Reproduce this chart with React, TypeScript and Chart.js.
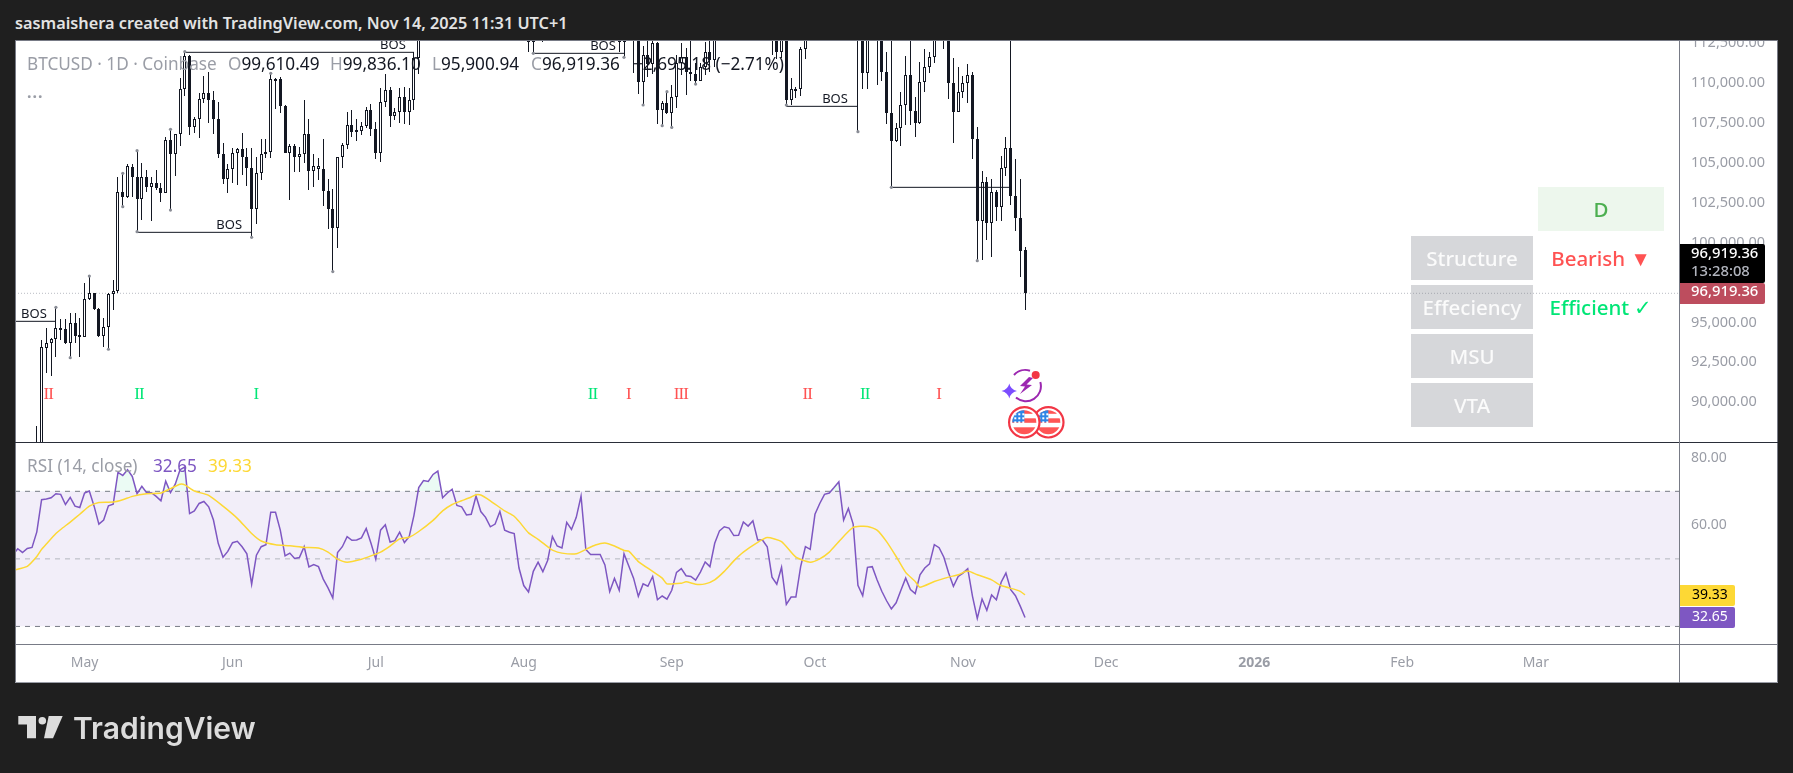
import React, { useEffect, useRef } from "react";
import { Chart, registerables } from "chart.js";

Chart.register(...registerables);

const UI_FONT = "'Noto Sans', sans-serif";

// Day numbers count from 16 Apr 2025 = 0; 14 Nov 2025 = 212.
const FIRST_CANDLE_DAY = 5;
const X_MIN = 0.43;
const X_MAX = 348.99;
const PRICE_MIN = 87596;
const PRICE_MAX = 112738;
const RSI_MIN = 24.8;
const RSI_MAX = 84.3;

const priceTicks = [90000, 92500, 95000, 97500, 100000, 102500, 105000, 107500, 110000, 112500];
const rsiTicks = [60, 80];
const monthTickDays = [15, 46, 76, 107, 138, 168, 199, 229, 260, 291, 319];
const monthTickLabels = ["May", "Jun", "Jul", "Aug", "Sep", "Oct", "Nov", "Dec", "2026", "Feb", "Mar"];

// [open, high, low, close]
const candlesApr = [
  [85100, 88600, 85000, 87400], [87400, 93990, 87000, 93530], [93510, 94720, 91940, 93780], [93780, 94100, 91750, 94030],
  [94030, 96040, 92950, 94720], [94720, 95290, 93990, 94750], [94660, 95290, 93720, 93780], [93780, 95660, 92880, 95040],
  [95040, 95660, 93830, 94260], [94300, 95350, 92950, 94200],
];
const candlesMay = [
  [94200, 97545, 94200, 96540], [96540, 98000, 96500, 96960], [96960, 96960, 95870, 95910], [95910, 95980, 94200, 94260],
  [94260, 95350, 93570, 94780], [94780, 96920, 93410, 96870], [96850, 97750, 95870, 97080], [97065, 104230, 96920, 103290],
  [103290, 104440, 102350, 102980], [102980, 105020, 102870, 104900], [104820, 105020, 102980, 104190], [104190, 105860, 100780, 102810],
  [102810, 105070, 101520, 104190], [104190, 104650, 103290, 103560], [103560, 104230, 101470, 103810], [103810, 104650, 103400, 103500],
  [103500, 103810, 102670, 103190], [103190, 106740, 103190, 106530], [106530, 107200, 102140, 105630], [105630, 106890, 104270, 106890],
  [106890, 110400, 106180, 109710], [109710, 112070, 109310, 111800], [111800, 111860, 106840, 107370], [107370, 108000, 106950, 107830],
  [107830, 109460, 106680, 109080], [109080, 110540, 108830, 109500], [109500, 110820, 107620, 109040], [109040, 109620, 106890, 107830],
  [107830, 108930, 105380, 105630], [105630, 106360, 103770, 104070], [104070, 105030, 103190, 104690],
];
const candlesJun = [
  [104690, 106010, 103810, 105740], [105740, 106010, 103710, 105950], [105950, 106950, 104340, 105490], [105490, 106010, 103650, 104750],
  [104750, 106010, 100430, 102180], [102180, 105450, 101260, 104440], [104440, 106570, 104020, 105630], [105630, 106570, 105380, 105800],
  [105800, 110710, 105380, 110330], [110330, 110400, 108450, 110300], [110330, 110460, 108200, 108690], [108690, 108730, 105740, 105740],
  [105740, 106280, 102770, 106150], [106150, 106280, 104550, 105490], [105490, 106110, 104550, 105630], [105630, 109040, 105070, 106890],
  [106890, 107830, 103400, 104610], [104610, 105650, 103600, 104920], [104690, 105380, 104020, 104920], [104690, 106570, 102390, 103350],
  [103350, 104070, 100950, 102180], [102180, 103440, 98280, 101030], [101030, 105490, 99740, 105440], [105440, 106360, 104750, 106200],
  [106200, 108310, 105950, 107450], [107450, 108410, 106700, 107050], [107050, 107830, 106490, 107160], [107120, 107680, 106840, 107410],
  [107410, 108620, 107260, 108410], [108410, 108790, 106800, 107200],
];
const candlesJul = [
  [107200, 107680, 105340, 105740], [105740, 109810, 105170, 108890], [108890, 110670, 108620, 109670], [109670, 109830, 107370, 108060],
  [108060, 108520, 107780, 108270], [108270, 109770, 107580, 109250], [109250, 109830, 107530, 108310], [108310, 109770, 107470, 109040],
  [109040, 112030, 108410, 111650], [111650, 116800, 110670, 116000], [116000, 118800, 115000, 117500], [117500, 118200, 116900, 117400],
  [117400, 119400, 117300, 119100], [119100, 123200, 118900, 119800], [119800, 119900, 115800, 117700], [117700, 119000, 115900, 118600],
  [118600, 120900, 117500, 119200], [119200, 120000, 117100, 117900], [117900, 118900, 117300, 117900], [117900, 118800, 116500, 117300],
  [117300, 119600, 116800, 117400], [117400, 120200, 116100, 120000], [120000, 120100, 117300, 118700], [118700, 119500, 117100, 118300],
  [118300, 118400, 114700, 117600], [117600, 118300, 117200, 117900], [117900, 119800, 117800, 119400], [119400, 119800, 117400, 118000],
  [118000, 119200, 116900, 117800], [117800, 118800, 115800, 117800], [117800, 118900, 115700, 115700],
];
const candlesAug = [
  [115700, 116000, 113000, 113300], [113300, 114000, 112070, 112700], [112700, 114700, 111965, 114200], [114200, 115700, 114000, 115100],
  [115100, 115100, 112700, 114100], [114100, 115700, 113300, 115000], [115000, 117600, 114300, 117500], [117500, 117700, 115900, 116700],
  [116700, 117900, 116400, 116500], [116500, 119300, 116500, 119300], [119300, 122300, 118100, 118700], [118700, 120300, 118200, 120100],
  [120100, 123700, 118900, 123300], [123300, 124500, 117200, 118300], [118300, 119300, 116800, 117400], [117400, 117900, 117200, 117500],
  [117500, 118600, 117300, 117500], [117500, 117600, 114700, 116300], [116300, 116800, 112900, 113000], [113000, 114600, 113000, 114300],
  [114300, 114800, 112070, 112700], [112700, 117400, 111715, 116900], [116900, 117400, 114500, 115400], [115400, 115600, 110710, 113500],
  [113500, 113700, 109390, 110147], [110147, 112400, 108725, 111860], [111860, 113400, 110500, 111280], [111280, 113400, 110700, 112630],
  [112630, 112700, 107530, 108410], [108410, 109000, 107430, 108830], [108830, 109560, 108160, 108240],
];
const candlesSep = [
  [108240, 109980, 107320, 109250], [109250, 111860, 108520, 111340], [111340, 112630, 110600, 111760], [111760, 112280, 109350, 110770],
  [110770, 113000, 110250, 110670], [110700, 111340, 110040, 110250], [110250, 111340, 110250, 111130], [111130, 112700, 110600, 112070],
  [112070, 113000, 110800, 111550], [111550, 114300, 111090, 113900], [113900, 115600, 113400, 115500], [115500, 116300, 114800, 116000],
  [116000, 116400, 115500, 115900], [115900, 116100, 115100, 115300], [115300, 116700, 114800, 115400], [115400, 117000, 114400, 116800],
  [116800, 117300, 114800, 116500], [116500, 117900, 116100, 117000], [117000, 117500, 115100, 115600], [115600, 116200, 115400, 115700],
  [115700, 115900, 115000, 115300], [115300, 115700, 111860, 112750], [112750, 113300, 111590, 112030], [112030, 114000, 111650, 113300],
  [113300, 113700, 108725, 109040], [109040, 110400, 108725, 109708], [109708, 109875, 109143, 109750], [109750, 112383, 109290, 112216],
  [112216, 114500, 111610, 114300], [114300, 114800, 112800, 114000],
];
const candlesOct = [
  [114000, 118700, 113900, 118600], [118600, 120900, 118300, 120500], [120500, 123900, 119300, 122200], [122200, 122900, 121500, 122400],
  [122400, 125700, 122100, 123400], [123400, 126200, 123100, 124700], [124700, 125100, 120600, 121400], [121400, 124100, 121100, 123300],
  [123300, 123700, 119500, 121600], [121600, 122500, 107053, 113000], [113000, 113500, 109750, 110753], [110753, 115900, 109750, 115200],
  [115200, 116000, 113500, 115300], [115300, 115900, 109980, 113000], [113000, 113700, 110251, 110815], [110815, 112070, 107534, 108200],
  [108200, 113000, 103563, 106490], [106490, 107576, 106427, 107263], [107263, 109562, 106176, 108725], [108725, 111798, 107472, 110607],
  [110607, 113000, 107472, 108370], [108370, 109248, 106740, 107618], [107618, 111443, 107534, 110147], [110147, 112237, 109562, 111087],
  [111087, 112028, 110753, 111714], [111714, 114600, 111338, 113500], [113500, 116400, 113400, 114100], [114100, 116000, 112237, 112900],
  [112900, 113600, 109081, 110084], [110084, 111651, 106364, 108308], [108308, 111129, 108308, 109562],
];
const candlesNov = [
  [109562, 110544, 109143, 110084], [110084, 111296, 108872, 110607], [110607, 110815, 105340, 106573], [106573, 107325, 98965, 101473],
  [101473, 104608, 99007, 103877], [103877, 104232, 100261, 101306], [101306, 104086, 99216, 103292], [103292, 103396, 101473, 102309],
  [102309, 105528, 101473, 104754], [104754, 106698, 104295, 106008], [106008, 113000, 102456, 103041], [103041, 105319, 100846, 101661],
  [101661, 104086, 97962, 99592], [99610.49, 99836.1, 95900.94, 96919.36],
];

const rsiApr = [51.2, 53.0, 51.9, 53.1, 53.4, 58.0, 67.5, 67.7, 68.1, 69.3, 69.1, 66.1, 68.2, 65.6, 65.2];
const rsiMay = [69.5, 70.1, 65.6, 60.3, 61.5, 65.7, 66.2, 75.6, 74.7, 76.4, 74.4, 69.3, 71.5, 69.6, 69.6, 68.5, 67.2, 73.0, 69.6, 72.1, 76.4, 77.2, 63.4, 64.2, 66.4, 67.0, 65.4, 61.5, 54.6, 50.5, 52.2];
const rsiJun = [54.8, 55.2, 53.6, 51.5, 42.5, 51.1, 53.6, 54.2, 63.8, 63.8, 58.5, 50.9, 51.7, 50.1, 50.4, 53.6, 47.6, 48.3, 47.7, 44.0, 41.4, 38.4, 51.9, 53.6, 56.6, 55.5, 55.6, 56.2, 59.0, 54.6];
const rsiJul = [49.9, 58.5, 60.1, 55.0, 55.4, 57.9, 54.8, 56.6, 62.9, 71.1, 73.2, 72.9, 75.0, 76.0, 68.1, 69.5, 70.6, 65.8, 65.4, 63.0, 63.2, 68.6, 64.0, 62.3, 59.5, 60.3, 64.0, 58.5, 57.9, 57.5, 47.3];
const rsiAug = [42.1, 40.2, 46.3, 49.0, 46.2, 49.5, 56.6, 53.8, 53.2, 60.8, 58.7, 62.3, 68.6, 52.8, 51.3, 51.3, 51.3, 48.2, 40.3, 44.2, 40.7, 51.5, 47.9, 44.3, 38.9, 42.6, 41.9, 44.8, 37.9, 39.0, 38.1];
const rsiSep = [40.7, 46.0, 47.1, 45.0, 44.8, 43.7, 46.1, 49.1, 47.7, 54.6, 58.3, 59.5, 59.1, 56.9, 57.0, 60.9, 59.7, 61.3, 55.6, 55.6, 53.6, 44.6, 42.5, 47.5, 36.5, 38.7, 38.7, 47.7, 53.6, 52.8];
const rsiOct = [63.2, 66.4, 69.1, 69.5, 71.1, 72.8, 61.5, 64.9, 60.3, 42.2, 39.1, 47.5, 47.7, 43.8, 40.4, 37.6, 35.2, 37.0, 40.7, 44.3, 40.9, 39.7, 45.3, 47.3, 48.5, 54.2, 53.3, 50.5, 45.8, 41.9, 44.8];
const rsiNov = [45.8, 47.1, 38.9, 32.4, 38.1, 34.8, 39.3, 37.9, 43.1, 45.8, 40.9, 39.1, 36.0, 32.65];

const rsiMaDays = [0, 3, 5, 6, 7, 9, 10, 12, 14, 16, 18, 21, 23, 25, 28, 31, 33, 35, 36, 38, 41, 44, 47, 50, 52, 55, 58, 61, 64, 66, 68, 70, 73, 75, 77, 79, 81, 83, 85, 88, 90, 92, 94, 96, 97, 98, 100, 103, 105, 106, 108, 110, 112, 113, 115, 118, 120, 122, 124, 126, 128, 129, 131, 134, 136, 137, 140, 141, 143, 145, 147, 149, 151, 153, 156, 158, 161, 164, 167, 169, 171, 173, 176, 179, 181, 183, 185, 187, 189, 190, 193, 196, 198, 200, 202, 205, 207, 210, 211, 212];
const rsiMaValues = [46.6, 47.8, 50.7, 52.8, 54.4, 57.5, 58.7, 60.9, 63.2, 65.6, 66.7, 66.8, 67.5, 68.5, 69.3, 69.5, 70.8, 72.1, 71.9, 70.1, 68.8, 65.6, 62.0, 57.5, 55.3, 54.2, 53.9, 53.4, 53.2, 52.0, 49.9, 49.0, 49.9, 50.9, 52.0, 53.8, 55.9, 56.4, 58.1, 61.4, 64.2, 66.1, 67.2, 68.3, 69.0, 68.9, 67.2, 64.2, 62.6, 61.1, 57.7, 55.8, 53.6, 52.6, 51.7, 51.5, 52.8, 54.1, 54.7, 53.8, 52.5, 52.3, 49.2, 46.3, 44.3, 42.6, 42.8, 43.2, 42.5, 42.6, 43.8, 46.3, 49.4, 52.0, 54.9, 56.3, 55.1, 50.5, 49.0, 50.0, 52.0, 55.1, 59.3, 59.6, 58.5, 55.1, 50.7, 46.0, 43.3, 41.6, 43.3, 44.6, 45.3, 46.4, 45.3, 43.8, 42.1, 40.9, 40.4, 39.33];

const rsiHighBand = 70;
const rsiMidBand = 50;
const rsiLowBand = 30;
const lastPrice = 96919.36;
const lastRsi = 32.65;
const lastRsiMa = 39.33;

const swingHighDays = [9, 16, 23, 26, 33, 36, 54, 137];
const swingLowDays = [12, 20, 23, 26, 33, 50, 67, 109, 128, 132, 136, 138, 143, 162, 177, 184, 202];

const bosStartDays = [X_MIN, 26, 36, 109, 162, 184];
const bosEndDays = [9, 50, 84, 128, 177, 209];
const bosPrices = [95162, 100742, 112028, 111965, 108642, 103563];
const bosLabelDays = [4.4, 45.3, 79.6, 123.6, 172.2];
const bosLabelPrices = [95162, 100742, 112028, 111965, 108642];

const markPrice = 90600;
const redMarkDays = [7, 8, 129, 139, 140, 141, 166, 167, 194];
const greenMarkDays = [26, 27, 51, 121, 122, 178, 179];

const allCandles = [...candlesApr, ...candlesMay, ...candlesJun, ...candlesJul, ...candlesAug, ...candlesSep, ...candlesOct, ...candlesNov];
const allRsi = [...rsiApr, ...rsiMay, ...rsiJun, ...rsiJul, ...rsiAug, ...rsiSep, ...rsiOct, ...rsiNov];
const candleAt = (day: number) => allCandles[day - FIRST_CANDLE_DAY];

const AXIS_COLOR = "#9a9da6";
const tickFont = { size: 14, family: UI_FONT };
const priceTickFont = { size: 14.5, family: UI_FONT };

const zeroPad = (s: any) => {
  s.paddingTop = 0;
  s.paddingBottom = 0;
  s.paddingLeft = 0;
  s.paddingRight = 0;
};

const snapBars = {
  id: "snapBars",
  afterDatasetsUpdate(chart: any) {
    chart.data.datasets.forEach((ds: any, i: number) => {
      if (ds.type !== "bar") return;
      chart.getDatasetMeta(i).data.forEach((el: any) => {
        el.x = Math.floor(el.x) + 0.5;
        el.y = Math.round(el.y);
        el.base = Math.round(el.base);
        if (Math.abs(el.y - el.base) < 2) el.base = el.y + 2;
      });
    });
  },
};

function tag(ctx: any, x: number, y: number, w: number, h: number, fill: string) {
  ctx.fillStyle = fill;
  ctx.beginPath();
  ctx.moveTo(x, y);
  ctx.lineTo(x + w - 2, y);
  ctx.arcTo(x + w, y, x + w, y + 2, 2);
  ctx.lineTo(x + w, y + h - 2);
  ctx.arcTo(x + w, y + h, x + w - 2, y + h, 2);
  ctx.lineTo(x, y + h);
  ctx.closePath();
  ctx.fill();
}

const priceAnnotations = {
  id: "priceAnnotations",
  afterDatasetsDraw(chart: any) {
    const { ctx, scales } = chart;
    const xs = scales.x;
    const ys = scales.y;
    ctx.save();
    ctx.textAlign = "center";
    ctx.textBaseline = "alphabetic";
    ctx.font = `13px ${UI_FONT}`;
    ctx.fillStyle = "#131722";
    bosLabelDays.forEach((d, i) => {
      ctx.fillText("BOS", xs.getPixelForValue(d), ys.getPixelForValue(bosLabelPrices[i]) - 3);
    });
    ctx.textBaseline = "middle";
    ctx.font = "17px 'Liberation Serif', serif";
    ctx.fillStyle = "#ff5252";
    redMarkDays.forEach((d) => ctx.fillText("I", xs.getPixelForValue(d), ys.getPixelForValue(markPrice)));
    ctx.fillStyle = "#00e676";
    greenMarkDays.forEach((d) => ctx.fillText("I", xs.getPixelForValue(d), ys.getPixelForValue(markPrice)));
    ctx.restore();
  },
  afterDraw(chart: any) {
    const { ctx, chartArea, scales } = chart;
    const left = chartArea.right + 1;
    const y = Math.round(scales.y.getPixelForValue(lastPrice));
    ctx.save();
    tag(ctx, left, y - 49, 85, 39, "#000000");
    tag(ctx, left, y - 10, 85, 21, "#bd4d5e");
    ctx.textBaseline = "middle";
    ctx.textAlign = "left";
    ctx.font = `500 14.8px ${UI_FONT}`;
    ctx.fillStyle = "#ffffff";
    ctx.fillText("96,919.36", left + 11, y - 39);
    ctx.fillText("96,919.36", left + 11, y - 1);
    ctx.fillStyle = "#b2b5be";
    ctx.fillText("13:28:08", left + 11, y - 21);
    ctx.restore();
  },
};

const rsiAnnotations = {
  id: "rsiAnnotations",
  afterDraw(chart: any) {
    const { ctx, chartArea, scales } = chart;
    const left = chartArea.right + 1;
    const y1 = Math.round(scales.y.getPixelForValue(lastRsiMa));
    const y2 = Math.round(scales.y.getPixelForValue(lastRsi));
    ctx.save();
    tag(ctx, left, y1 - 10, 55, 21, "#fdd835");
    tag(ctx, left, y2 - 10, 55, 21, "#7e57c2");
    ctx.textBaseline = "middle";
    ctx.textAlign = "left";
    ctx.font = `14px ${UI_FONT}`;
    ctx.fillStyle = "#000000";
    ctx.fillText(lastRsiMa.toFixed(2), left + 12, y1);
    ctx.fillStyle = "#ffffff";
    ctx.fillText(lastRsi.toFixed(2), left + 12, y2);
    ctx.restore();
  },
};

function buildPriceChart(canvas: HTMLCanvasElement) {
  const days = allCandles.map((_, i) => i + FIRST_CANDLE_DAY);
  const bosDatasets = bosPrices.map((p, i) => ({
    type: "line",
    data: [{ x: bosStartDays[i], y: p }, { x: bosEndDays[i], y: p }],
    borderColor: "#131722",
    borderWidth: 1,
    pointRadius: 0,
    order: 3,
  }));
  return new Chart(canvas, {
    data: {
      datasets: [
        {
          type: "line",
          data: [{ x: X_MIN, y: lastPrice }, { x: X_MAX, y: lastPrice }],
          borderColor: "#b9bcc4",
          borderWidth: 1,
          borderDash: [1, 2],
          pointRadius: 0,
          order: 6,
        },
        {
          type: "bar",
          data: days.map((d) => ({ x: d, y: [candleAt(d)[2], candleAt(d)[1]] })),
          backgroundColor: "#131722",
          barThickness: 1,
          grouped: false,
          inflateAmount: 0,
          order: 5,
        },
        {
          type: "bar",
          data: days.map((d) => ({ x: d, y: [candleAt(d)[0], candleAt(d)[3]] })),
          backgroundColor: days.map((d) => (candleAt(d)[3] >= candleAt(d)[0] ? "#ffffff" : "#131722")),
          borderColor: "#131722",
          borderWidth: 1,
          borderSkipped: false,
          barThickness: 3,
          grouped: false,
          inflateAmount: 0,
          order: 4,
        },
        ...bosDatasets,
        {
          type: "scatter",
          data: [
            ...swingHighDays.map((d) => ({ x: d, y: candleAt(d)[1] })),
            ...swingLowDays.map((d) => ({ x: d, y: candleAt(d)[2] })),
          ],
          backgroundColor: "#8a8d96",
          borderWidth: 0,
          pointRadius: 1.6,
          order: 2,
        },
      ],
    } as any,
    options: {
      responsive: false,
      maintainAspectRatio: false,
      animation: false,
      events: [],
      layout: { padding: 0, autoPadding: false },
      plugins: { legend: { display: false }, tooltip: { enabled: false } },
      scales: {
        x: { type: "linear", min: X_MIN, max: X_MAX, offset: false, display: false, afterFit: zeroPad },
        y: {
          type: "linear",
          position: "right",
          min: PRICE_MIN,
          max: PRICE_MAX,
          grid: { display: false, drawTicks: false },
          border: { display: false },
          afterBuildTicks: (s: any) => {
            s.ticks = priceTicks.map((value) => ({ value }));
          },
          afterFit: (s: any) => {
            zeroPad(s);
            s.width = 99;
          },
          ticks: {
            color: AXIS_COLOR,
            font: priceTickFont,
            padding: 12,
            labelOffset: -1.5,
            autoSkip: false,
            callback: (v: any) => Number(v).toLocaleString("en-US", { minimumFractionDigits: 2, maximumFractionDigits: 2 }),
          },
        },
      },
    } as any,
    plugins: [snapBars, priceAnnotations],
  });
}

function buildRsiChart(canvas: HTMLCanvasElement) {
  const band = (value: number, color: string, dash: number[], fill: any, order: number) => ({
    type: "line",
    data: [{ x: X_MIN, y: value }, { x: X_MAX, y: value }],
    borderColor: color,
    borderWidth: 1,
    borderDash: dash,
    pointRadius: 0,
    fill,
    order,
  });
  return new Chart(canvas, {
    data: {
      datasets: [
        band(rsiHighBand, "#787b86", [5, 5], { target: { value: rsiLowBand }, above: "rgba(126,87,194,0.1)", below: "transparent" }, 9),
        band(rsiMidBand, "#b4b6be", [5, 5], false, 8),
        band(rsiLowBand, "#787b86", [5, 5], false, 8),
        {
          type: "line",
          data: allRsi.map((v, i) => ({ x: i, y: v })),
          borderColor: "#7e57c2",
          borderWidth: 1.5,
          pointRadius: 0,
          tension: 0,
          fill: { target: { value: rsiHighBand }, above: "rgba(0,200,120,0.08)", below: "transparent" },
          order: 3,
        },
        {
          type: "line",
          data: rsiMaDays.map((d, i) => ({ x: d, y: rsiMaValues[i] })),
          borderColor: "#fdd835",
          borderWidth: 1.5,
          pointRadius: 0,
          tension: 0.2,
          order: 2,
        },
      ],
    } as any,
    options: {
      responsive: false,
      maintainAspectRatio: false,
      animation: false,
      events: [],
      layout: { padding: 0, autoPadding: false },
      plugins: { legend: { display: false }, tooltip: { enabled: false } },
      scales: {
        x: {
          type: "linear",
          min: X_MIN,
          max: X_MAX,
          offset: false,
          grid: { display: false, drawTicks: false },
          border: { display: false },
          afterBuildTicks: (s: any) => {
            s.ticks = monthTickDays.map((value) => ({ value }));
          },
          afterFit: (s: any) => {
            zeroPad(s);
            s.height = 39;
          },
          ticks: {
            color: AXIS_COLOR,
            font: (c: any) => ({
              ...tickFont,
              weight: c.tick && c.tick.value === monthTickDays[monthTickLabels.indexOf("2026")] ? "bold" : "normal",
            }),
            padding: 11,
            autoSkip: false,
            maxRotation: 0,
            minRotation: 0,
            callback: (v: any) => monthTickLabels[monthTickDays.indexOf(Number(v))],
          },
        },
        y: {
          type: "linear",
          position: "right",
          min: RSI_MIN,
          max: RSI_MAX,
          grid: { display: false, drawTicks: false },
          border: { display: false },
          afterBuildTicks: (s: any) => {
            s.ticks = rsiTicks.map((value) => ({ value }));
          },
          afterFit: (s: any) => {
            zeroPad(s);
            s.width = 99;
          },
          ticks: {
            color: AXIS_COLOR,
            font: tickFont,
            padding: 12,
            autoSkip: false,
            callback: (v: any) => Number(v).toFixed(2),
          },
        },
      },
    } as any,
    plugins: [rsiAnnotations],
  });
}

const abs = (left: number, top: number, width: number, height: number, extra: any = {}): any => ({
  position: "absolute",
  left,
  top,
  width,
  height,
  ...extra,
});

function Text({ x, y, color, size = 15, weight = 400, children, family = UI_FONT, spacing = 0 }: any) {
  return (
    <div
      style={{
        position: "absolute",
        left: x,
        top: y,
        transform: "translateY(-50%)",
        color,
        fontSize: size,
        fontWeight: weight,
        fontFamily: family,
        letterSpacing: spacing,
        whiteSpace: "nowrap",
        lineHeight: 1,
      }}
    >
      {children}
    </div>
  );
}

function Cell({ x, y, w, h, bg, color, weight = 500, size = 20.5, children }: any) {
  return (
    <div
      style={{
        ...abs(x, y, w, h),
        background: bg,
        color,
        fontFamily: UI_FONT,
        fontSize: size,
        fontWeight: weight,
        display: "flex",
        alignItems: "center",
        justifyContent: "center",
        whiteSpace: "nowrap",
      }}
    >
      {children}
    </div>
  );
}

function Flag({ cx, id }: { cx: number; id: string }) {
  const cy = 422.3;
  return (
    <g>
      <circle cx={cx} cy={cy} r={15.2} fill="#ffffff" stroke="#f23645" strokeWidth={2.2} />
      <clipPath id={id}>
        <circle cx={cx} cy={cy} r={12} />
      </clipPath>
      <g clipPath={`url(#${id})`}>
        <rect x={cx - 13} y={cy - 13} width={26} height={26} fill="#ffffff" />
        <rect x={cx - 13} y={cy - 4} width={26} height={4.5} fill="#f55" />
        <rect x={cx - 13} y={cy + 5} width={26} height={8} fill="#f55" />
        <rect x={cx - 13} y={cy - 13} width={26} height={4.5} fill="#f55" />
        <rect x={cx - 13} y={cy - 13} width={13} height={13} fill="#2e86e6" />
        {[-9, -5, -1].map((dy) => [-10, -6, -2].map((dx) => <rect key={`${dx}${dy}`} x={cx + dx} y={cy + dy} width={2} height={2} fill="#ffffff" />))}
      </g>
    </g>
  );
}

function Icons() {
  return (
    <svg width={1793} height={773} style={{ position: "absolute", left: 0, top: 0, pointerEvents: "none" }}>
      <path d="M1014 375 A15 15 0 0 1 1030 370.7" fill="none" stroke="#9c27b0" strokeWidth={2} />
      <path d="M1040.3 382 A15 15 0 0 1 1016 397.5" fill="none" stroke="#9c27b0" strokeWidth={2} />
      <path d="M1029 377 L1020 386 L1025 386.5 L1020 394 L1032 385 L1026.5 384.5 L1033 378 Z" fill="#9c27b0" />
      <path d="M1009.3 383.5 Q1010.5 389.5 1017 391 Q1010.5 392.5 1009.3 398.5 Q1008 392.5 1001.5 391 Q1008 389.5 1009.3 383.5 Z" fill="#7c4dff" />
      <circle cx={1035.7} cy={375} r={4} fill="#f23645" />
      <Flag cx={1048.3} id="flagB" />
      <Flag cx={1024.3} id="flagA" />
    </svg>
  );
}

export default function App() {
  const priceRef = useRef<HTMLCanvasElement>(null);
  const rsiRef = useRef<HTMLCanvasElement>(null);

  useEffect(() => {
    const a = buildPriceChart(priceRef.current!);
    const b = buildRsiChart(rsiRef.current!);
    return () => {
      a.destroy();
      b.destroy();
    };
  }, []);

  const gray = "#9a9da6";
  const dark = "#131722";
  const rowBg = "rgba(120,123,134,0.3)";
  const rowText = "#fbfbfb";
  const legendSize = 17.2;

  return (
    <div style={{ position: "fixed", inset: 0, background: "#1f1f1f", overflow: "hidden" }}>
      <Text x={15} y={23} color="#e3e3e3" size={16.3} weight={600}>
        sasmaishera created with TradingView.com, Nov 14, 2025 11:31 UTC+1
      </Text>

      <div style={abs(15, 40, 1763, 643, { background: "#ffffff" })} />
      <canvas ref={priceRef} width={1763} height={401} style={abs(15, 41, 1763, 401, { display: "block" })} />
      <canvas ref={rsiRef} width={1763} height={240} style={abs(15, 443, 1763, 240, { display: "block" })} />

      <div style={abs(15, 40, 1763, 1, { background: "#787b86" })} />
      <div style={abs(15, 40, 1, 643, { background: "#787b86" })} />
      <div style={abs(1777, 40, 1, 643, { background: "#787b86" })} />
      <div style={abs(15, 682, 1763, 1, { background: "#9a9da6" })} />
      <div style={abs(15, 442, 1763, 1, { background: "#2a2e39" })} />
      <div style={abs(15, 644, 1763, 1, { background: "#787b86" })} />
      <div style={abs(1679, 40, 1, 643, { background: "#787b86" })} />

      <Text x={27} y={64} color={gray} size={legendSize}>BTCUSD · 1D · Coinbase</Text>
      <Text x={228} y={64} color={gray} size={legendSize}>O<span style={{ color: dark }}>99,610.49</span></Text>
      <Text x={330} y={64} color={gray} size={legendSize}>H<span style={{ color: dark }}>99,836.10</span></Text>
      <Text x={432} y={64} color={gray} size={legendSize}>L<span style={{ color: dark }}>95,900.94</span></Text>
      <Text x={531} y={64} color={gray} size={legendSize}>C<span style={{ color: dark }}>96,919.36</span></Text>
      <Text x={633} y={64} color={dark} size={legendSize}>−2,695.18 (−2.71%)</Text>
      <Text x={27} y={92} color={gray} size={16} weight={700} spacing={1}>...</Text>

      <Text x={27} y={466} color={gray} size={legendSize}>RSI (14, close)</Text>
      <Text x={153} y={466} color="#7e57c2" size={legendSize}>32.65</Text>
      <Text x={208} y={466} color="#fdd835" size={legendSize}>39.33</Text>

      <Icons />

      <Cell x={1538} y={187} w={126} h={44} bg="rgba(76,175,80,0.1)" color="#4caf50">D</Cell>
      <Cell x={1411} y={236} w={122} h={44} bg={rowBg} color={rowText}>Structure</Cell>
      <Cell x={1538} y={236} w={126} h={44} bg="transparent" color="#ff5252">Bearish ▼</Cell>
      <Cell x={1411} y={285} w={122} h={44} bg={rowBg} color={rowText}>Effeciency</Cell>
      <Cell x={1538} y={285} w={126} h={44} bg="transparent" color="#00e676">Efficient ✓</Cell>
      <Cell x={1411} y={334} w={122} h={44} bg={rowBg} color={rowText}>MSU</Cell>
      <Cell x={1411} y={383} w={122} h={44} bg={rowBg} color={rowText}>VTA</Cell>

      <svg width={70} height={30} style={{ position: "absolute", left: 15, top: 712 }}>
        <path d="M3.3 4 H21 V26.3 H12 V12.5 H3.3 Z" fill="#dcdcdc" />
        <circle cx={27.3} cy={8.7} r={3.8} fill="#dcdcdc" />
        <path d="M33.7 4 H47.7 L38 26.3 H29 Z" fill="#dcdcdc" />
      </svg>
      <Text x={73} y={728} color="#dcdcdc" size={30} weight={600} family="Inter, sans-serif">TradingView</Text>
    </div>
  );
}
